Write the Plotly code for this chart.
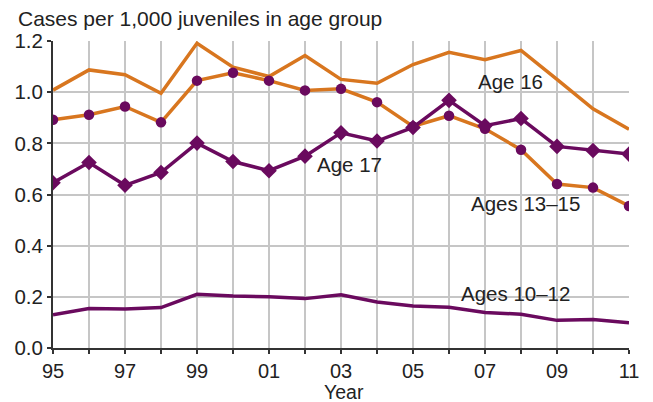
import plotly.graph_objects as go

# Years 1995-2011
years = list(range(1995, 2012))
tick_labels = [str(y)[-2:] if y % 2 == 1 else "" for y in years]

# Cases per 1,000 juveniles in age group
age_16 = [1.008, 1.087, 1.068, 0.996, 1.191, 1.098, 1.061, 1.143, 1.050,
          1.035, 1.108, 1.156, 1.127, 1.163, 1.050, 0.935, 0.855]
ages_13_15 = [0.892, 0.912, 0.944, 0.882, 1.045, 1.076, 1.045, 1.007, 1.013,
              0.961, 0.866, 0.908, 0.857, 0.775, 0.641, 0.627, 0.555]
age_17 = [0.646, 0.725, 0.636, 0.686, 0.801, 0.729, 0.693, 0.750, 0.841,
          0.809, 0.862, 0.968, 0.869, 0.897, 0.788, 0.772, 0.758]
ages_10_12 = [0.130, 0.154, 0.152, 0.158, 0.210, 0.203, 0.200, 0.193, 0.208,
              0.180, 0.164, 0.159, 0.139, 0.132, 0.108, 0.111, 0.099]

ORANGE = "#D8761F"
PURPLE = "#6A0A5E"
TEXT = "#222222"
FONT = "Liberation Sans, Arial, sans-serif"

fig = go.Figure()

fig.add_trace(go.Scatter(x=years, y=ages_10_12, mode="lines",
                         line=dict(color=PURPLE, width=3.5)))
fig.add_trace(go.Scatter(x=years, y=age_16, mode="lines",
                         line=dict(color=ORANGE, width=3.5)))
fig.add_trace(go.Scatter(x=years, y=ages_13_15, mode="lines+markers",
                         line=dict(color=ORANGE, width=3.5),
                         marker=dict(symbol="circle", size=10.5, color=PURPLE)))
fig.add_trace(go.Scatter(x=years, y=age_17, mode="lines+markers",
                         line=dict(color=PURPLE, width=3.5),
                         marker=dict(symbol="diamond", size=12, color=PURPLE)))

# Series labels
labels = [
    ("Age 16", 2007.7, 1.042),
    ("Age 17", 2003.24, 0.718),
    ("Ages 13\u201315", 2008.13, 0.565),
    ("Ages 10\u201312", 2007.85, 0.212),
]
for text, x, y in labels:
    fig.add_annotation(x=x, y=y, text=text, showarrow=False,
                       font=dict(size=20.5, color=TEXT, family=FONT))

# chart title (top left) and x-axis title
fig.add_annotation(x=0, y=1, xref="paper", yref="paper", xshift=-37, yshift=23,
                   xanchor="left", yanchor="middle", showarrow=False,
                   text="Cases per 1,000 juveniles in age group",
                   font=dict(size=21, color=TEXT, family=FONT))
fig.add_annotation(x=0.5, y=0, xref="paper", yref="paper", xshift=3, yshift=-44,
                   xanchor="center", yanchor="middle", showarrow=False,
                   borderpad=0,
                   text="Year", font=dict(size=19.5, color=TEXT, family=FONT))

fig.update_xaxes(
    range=[1995, 2011],
    tickmode="array",
    tickvals=years,
    ticktext=tick_labels,
    showgrid=True, gridcolor="#C6C6C6", gridwidth=1.5,
    showline=True, linecolor="#333333", linewidth=2,
    ticks="outside", ticklen=4, tickcolor="#333333", tickwidth=1.5,
    tickfont=dict(size=20, color=TEXT, family=FONT),
    zeroline=False,
)
fig.update_yaxes(
    range=[0, 1.2],
    tickvals=[0, 0.2, 0.4, 0.6, 0.8, 1.0, 1.2],
    tickformat=".1f",
    showgrid=True, gridcolor="#C6C6C6", gridwidth=1.5,
    showline=True, linecolor="#333333", linewidth=2,
    ticks="outside", ticklen=4, tickcolor="#333333", tickwidth=1.5,
    tickfont=dict(size=20.5, color=TEXT, family=FONT),
    zeroline=False,
)

fig.update_layout(
    width=653, height=402,
    margin=dict(l=53, r=24, t=41, b=54),
    plot_bgcolor="white", paper_bgcolor="white",
    showlegend=False,
)

# drop the default 8px body margin so the figure sits at the page corner
fig.write_html("out.html", config={"displayModeBar": False},
               post_script="document.body.style.margin='0';")
